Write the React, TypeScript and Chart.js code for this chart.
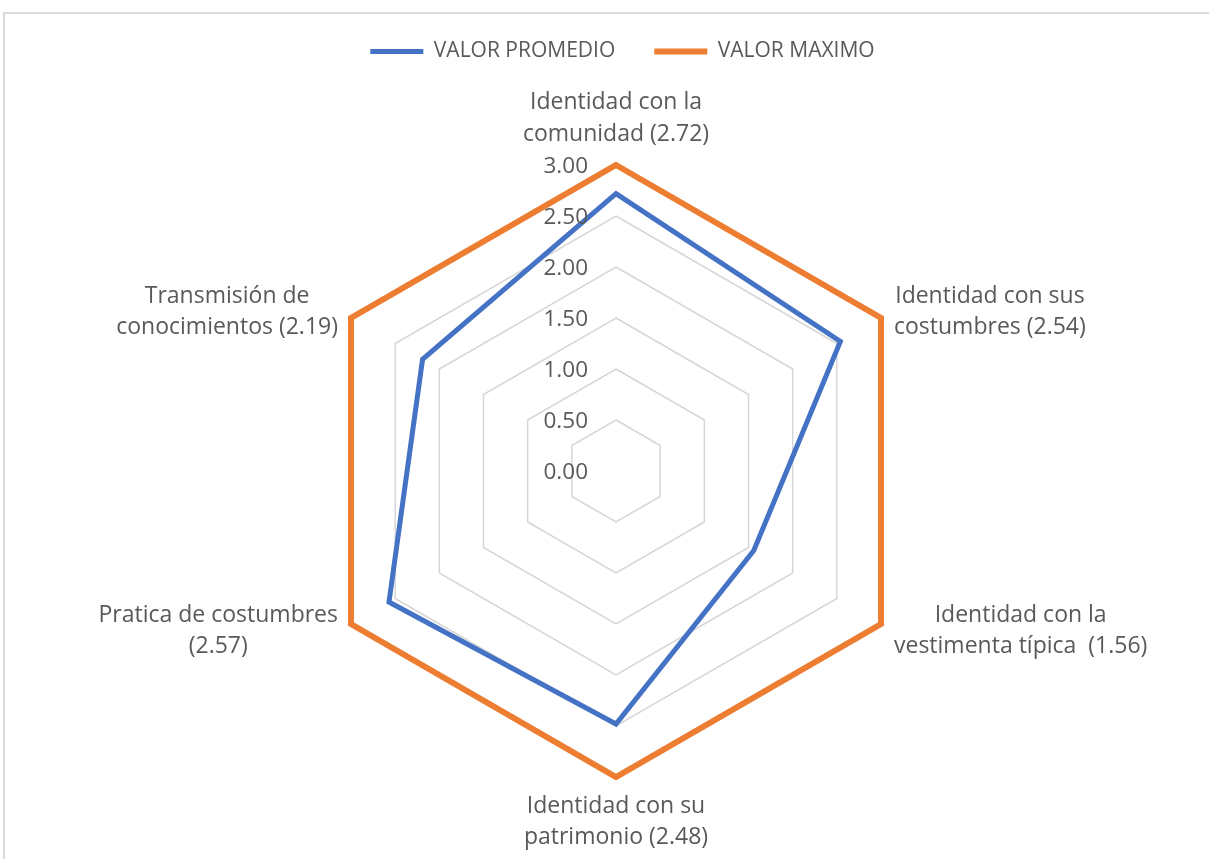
import { useEffect, useRef } from "react";
import { Chart, registerables } from "chart.js";

Chart.register(...registerables);

const CATEGORY_LINES: string[][] = [
  ["Identidad con la", "comunidad (2.72)"],
  ["Identidad con sus", "costumbres (2.54)"],
  ["Identidad con la", "vestimenta típica  (1.56)"],
  ["Identidad con su", "patrimonio (2.48)"],
  ["Pratica de costumbres", "(2.57)"],
  ["Transmisión de", "conocimientos (2.19)"],
];
const VALOR_PROMEDIO = [2.72, 2.54, 1.56, 2.48, 2.57, 2.19];
const VALOR_MAXIMO = [3, 3, 3, 3, 3, 3];
const SERIES_NAMES = ["VALOR PROMEDIO", "VALOR MAXIMO"];
const AXIS_MIN = 0;
const AXIS_MAX = 3;
const AXIS_STEP = 0.5;

const TEXT_COLOR = "#595959";
const FONT = '"Open Sans", "DejaVu Sans", sans-serif';

const excelLabels = {
  id: "excelLabels",
  afterDraw(chart: any) {
    const scale = chart.scales.r;
    const ctx = chart.ctx as CanvasRenderingContext2D;
    ctx.save();
    ctx.fillStyle = TEXT_COLOR;
    // tick labels (left of the vertical axis, right aligned)
    ctx.font = `22.5px ${FONT}`;
    ctx.textAlign = "right";
    ctx.textBaseline = "middle";
    scale.ticks.forEach((t: any) => {
      const d = scale.getDistanceFromCenterForValue(t.value);
      ctx.fillText(Number(t.value).toFixed(2), scale.xCenter - 28, scale.yCenter - d + 2);
    });
    // category labels
    ctx.font = `23px ${FONT}`;
    ctx.textAlign = "center";
    const lh = 31.5;
    CATEGORY_LINES.forEach((lines, i) => {
      const p = scale.getPointPosition(i, scale.drawingArea);
      const n = lines.length;
      const w = Math.max(...lines.map((l) => ctx.measureText(l).width));
      const dx = p.x - scale.xCenter;
      const dy = p.y - scale.yCenter;
      let cx: number;
      let cy: number;
      if (Math.abs(dx) < 1) {
        cx = p.x;
        cy = dy < 0 ? p.y - 31 - ((n - 1) * lh) / 2 : p.y + 29 + ((n - 1) * lh) / 2;
      } else {
        cx = dx > 0 ? p.x + 13 + w / 2 : p.x - 13 - w / 2;
        cy = p.y + (dy < 0 ? -6 : 7);
      }
      lines.forEach((l, k) => {
        ctx.fillText(l, cx, cy + (k - (n - 1) / 2) * lh);
      });
    });
    ctx.restore();
  },
};

export default function App() {
  const ref = useRef<HTMLCanvasElement | null>(null);
  useEffect(() => {
    if (!ref.current) return;
    const chart = new Chart(ref.current, {
      type: "radar",
      data: {
        labels: CATEGORY_LINES.map((l) => l.join(" ")),
        datasets: [
          {
            label: SERIES_NAMES[0],
            data: VALOR_PROMEDIO,
            borderColor: "#4472C4",
            backgroundColor: "#4472C4",
            borderWidth: 5,
            fill: false,
            pointRadius: 0,
            pointHoverRadius: 0,
            borderJoinStyle: "miter",
            borderCapStyle: "round",
            order: 0,
          },
          {
            label: SERIES_NAMES[1],
            data: VALOR_MAXIMO,
            borderColor: "#ED7D31",
            backgroundColor: "#ED7D31",
            borderWidth: 6,
            fill: false,
            pointRadius: 0,
            pointHoverRadius: 0,
            borderJoinStyle: "miter",
            borderCapStyle: "round",
            order: 1,
          },
        ],
      },
      options: {
        responsive: false,
        animation: false,
        devicePixelRatio: 1,
        layout: { padding: { left: 36, top: 2, right: 0, bottom: 0 } },
        plugins: {
          tooltip: { enabled: false },
          legend: {
            position: "top",
            labels: {
              usePointStyle: true,
              pointStyle: "line",
              pointStyleWidth: 53,
              padding: 39,
              color: TEXT_COLOR,
              font: { family: FONT, size: 21 },
            },
          },
        },
        scales: {
          r: {
            min: AXIS_MIN,
            max: AXIS_MAX,
            ticks: { stepSize: AXIS_STEP, display: false },
            grid: { color: "#d6d6d6", lineWidth: 1.5 },
            angleLines: { display: false },
            pointLabels: { display: false },
            afterFit: (scale: any) => {
              scale.xCenter = 616;
              scale.yCenter = 471;
              scale.drawingArea = 306;
            },
          },
        },
      },
      plugins: [excelLabels],
    } as any);
    return () => chart.destroy();
  }, []);
  return (
    <div
      style={{
        position: "fixed",
        left: 0,
        top: 0,
        width: 1209,
        height: 859,
        overflow: "hidden",
        background: "#fff",
      }}
    >
      <div
        style={{
          position: "absolute",
          left: 3,
          top: 12,
          width: 1240,
          height: 880,
          border: "2px solid #d9d9d9",
          boxSizing: "border-box",
        }}
      />
      <canvas
        ref={ref}
        width={1209}
        height={859}
        style={{ position: "absolute", left: 0, top: 0, width: 1209, height: 859 }}
      />
    </div>
  );
}
